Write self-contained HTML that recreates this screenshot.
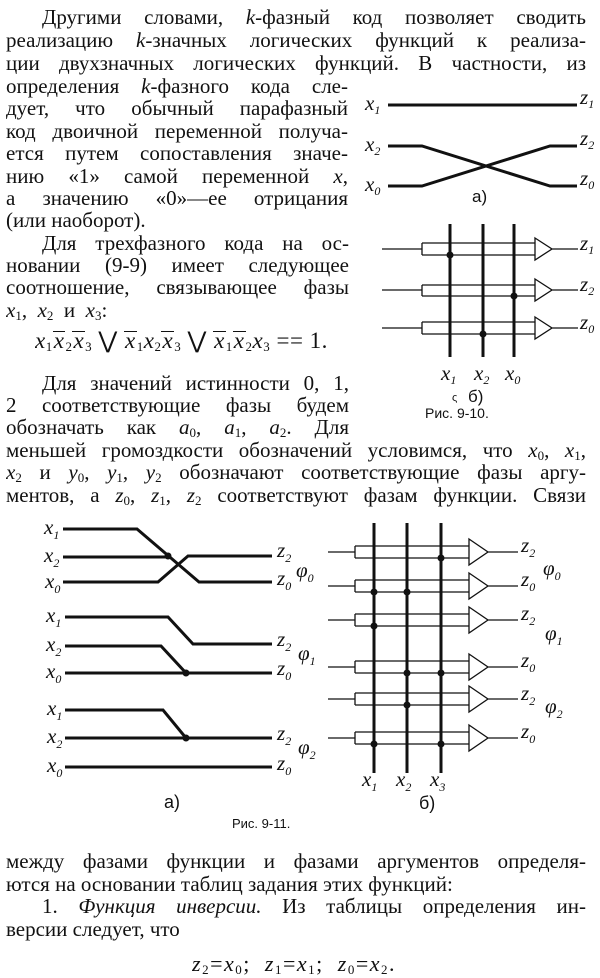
<!DOCTYPE html>
<html><head><meta charset="utf-8">
<style>
body{margin:0;background:#fff;}
#p{position:relative;width:600px;height:978px;overflow:hidden;background:#fff;color:#111;font-family:"Liberation Serif","DejaVu Serif",serif;}
.l{position:absolute;height:24px;line-height:24px;font-size:21px;text-align:justify;text-align-last:justify;white-space:normal;overflow:hidden;}
.n{text-align-last:left;}
i{font-style:italic;}
sub{font-size:13px;vertical-align:-3px;line-height:0;}
.ov{display:inline-block;line-height:18px;border-top:1.5px solid #111;padding:0 1px;}
svg text{font-family:"Liberation Serif",serif;font-style:italic;}
svg .s{font-family:"Liberation Sans",sans-serif;font-style:normal;}
</style></head><body><div id="p">
<div class="l" style="left:42px;width:544px;top:5px">Другими словами, <i>k</i>-фазный код позволяет сводить</div>
<div class="l" style="left:6px;width:580px;top:28px">реализацию <i>k</i>-значных логических функций к реализа-</div>
<div class="l" style="left:6px;width:580px;top:51px">ции двухзначных логических функций. В частности, из</div>
<div class="l" style="left:6px;width:342px;top:74px">определения <i>k</i>-фазного кода сле-</div>
<div class="l" style="left:6px;width:342px;top:96px">дует, что обычный парафазный</div>
<div class="l" style="left:6px;width:342px;top:119px">код двоичной переменной получа-</div>
<div class="l" style="left:6px;width:342px;top:141px">ется путем сопоставления значе-</div>
<div class="l" style="left:6px;width:342px;top:164px">нию «1» самой переменной <i>x</i>,</div>
<div class="l" style="left:6px;width:342px;top:186px">а значению «0»—ее отрицания</div>
<div class="l n" style="left:6px;width:342px;top:208px">(или наоборот).</div>
<div class="l" style="left:42px;width:307px;top:231px">Для трехфазного кода на ос-</div>
<div class="l" style="left:6px;width:343px;top:253px">новании (9-9) имеет следующее</div>
<div class="l" style="left:6px;width:343px;top:275px">соотношение, связывающее фазы</div>
<div class="l n" style="left:6px;width:343px;top:298px"><i>x</i><sub>1</sub>, &nbsp;<i>x</i><sub>2</sub> &nbsp;и &nbsp;<i>x</i><sub>3</sub>:</div>
<div class="l n" style="left:35px;width:310px;height:30px;line-height:30px;top:326px;font-size:23px;letter-spacing:0.5px"><i>x</i><sub>1</sub><i class="ov">x</i><sub>2</sub><i class="ov">x</i><sub>3</sub> ⋁ <i class="ov">x</i><sub>1</sub><i>x</i><sub>2</sub><i class="ov">x</i><sub>3</sub> ⋁ <i class="ov">x</i><sub>1</sub><i class="ov">x</i><sub>2</sub><i>x</i><sub>3</sub> == 1.</div>
<div class="l" style="left:42px;width:307px;top:371px">Для значений истинности 0, 1,</div>
<div class="l" style="left:6px;width:343px;top:393px">2 соответствующие фазы будем</div>
<div class="l" style="left:6px;width:343px;top:415px">обозначать как <i>a</i><sub>0</sub>, <i>a</i><sub>1</sub>, <i>a</i><sub>2</sub>. Для</div>
<div class="l" style="left:6px;width:580px;top:438px">меньшей громоздкости обозначений условимся, что <i>x</i><sub>0</sub>, <i>x</i><sub>1</sub>,</div>
<div class="l" style="left:6px;width:580px;top:460px"><i>x</i><sub>2</sub> и <i>y</i><sub>0</sub>, <i>y</i><sub>1</sub>, <i>y</i><sub>2</sub> обозначают соответствующие фазы аргу-</div>
<div class="l" style="left:6px;width:580px;top:483px">ментов, а <i>z</i><sub>0</sub>, <i>z</i><sub>1</sub>, <i>z</i><sub>2</sub> соответствуют фазам функции. Связи</div>
<div class="l" style="left:6px;width:580px;top:849px">между фазами функции и фазами аргументов определя-</div>
<div class="l n" style="left:6px;width:580px;top:872px">ются на основании таблиц задания этих функций:</div>
<div class="l" style="left:42px;width:544px;top:894px">1. <i>Функция инверсии.</i> Из таблицы определения ин-</div>
<div class="l n" style="left:6px;width:580px;top:917px">версии следует, что</div>
<div class="l n" style="left:192px;width:260px;top:952px;font-size:22px;letter-spacing:1.5px"><i>z</i><sub>2</sub>=<i>x</i><sub>0</sub>; &nbsp;<i>z</i><sub>1</sub>=<i>x</i><sub>1</sub>; &nbsp;<i>z</i><sub>0</sub>=<i>x</i><sub>2</sub>.</div>

<svg width="600" height="978" style="position:absolute;left:0;top:0" fill="none" stroke="#111">
<!-- Fig 9-10 a -->
<g stroke-width="3">
<path d="M388 105H577"/>
<path d="M388 146H422L550 186H577"/>
<path d="M388 186H422L550 146H577"/>
</g>
<g fill="#111" stroke="none" font-size="21">
<text x="365" y="110">x<tspan font-size="12" dy="4">1</tspan></text>
<text x="365" y="151">x<tspan font-size="12" dy="4">2</tspan></text>
<text x="365" y="191">x<tspan font-size="12" dy="4">0</tspan></text>
<text x="580" y="104">z<tspan font-size="12" dy="4">1</tspan></text>
<text x="580" y="145">z<tspan font-size="12" dy="4">2</tspan></text>
<text x="580" y="185">z<tspan font-size="12" dy="4">0</tspan></text>
<text x="580" y="250">z<tspan font-size="12" dy="4">1</tspan></text>
<text x="580" y="291">z<tspan font-size="12" dy="4">2</tspan></text>
<text x="580" y="329">z<tspan font-size="12" dy="4">0</tspan></text>
<text class="s" x="472" y="202" font-size="17">a)</text>
<text x="441" y="380">x<tspan font-size="12" dy="4">1</tspan></text>
<text x="474" y="380">x<tspan font-size="12" dy="4">2</tspan></text>
<text x="505" y="380">x<tspan font-size="12" dy="4">0</tspan></text>
<text class="s" x="452" y="401" font-size="11">ς</text>
<text class="s" x="468" y="402" font-size="17">б)</text>
<text class="s" x="425" y="418" font-size="14">Рис. 9-10.</text>
</g>
<!-- Fig 9-10 b -->
<g stroke-width="1.3">
<path d="M382 249H422M422 243H535M422 255H535M422 243V255M535 238L552 249L535 260ZM552 249H578"/>
<path d="M382 290H422M422 285H535M422 296H535M422 285V296M535 279L552 290L535 301ZM552 290H578"/>
<path d="M382 328H422M422 322H535M422 334H535M422 322V334M535 317L552 328L535 339ZM552 328H578"/>
</g>
<g stroke-width="3"><path d="M450 224V357M483 224V357M514 224V357"/></g>
<g fill="#111" stroke="none">
<circle cx="450" cy="255" r="3.5"/><circle cx="514" cy="296" r="3.5"/><circle cx="483" cy="334" r="3.5"/>
</g>

<!-- Fig 9-11 a -->
<g stroke-width="3">
<path d="M63 529H137L199 582H272"/>
<path d="M63 557H168"/>
<path d="M63 582H158L188 556H272"/>
<path d="M65 617H168L193 644H272"/>
<path d="M65 646H161L186 673"/>
<path d="M65 673H272"/>
<path d="M65 710H163L186 738"/>
<path d="M65 738H272"/>
<path d="M65 767H272"/>
</g>
<g fill="#111" stroke="none">
<circle cx="168" cy="556" r="3.5"/><circle cx="186" cy="673" r="3.5"/><circle cx="186" cy="738" r="3.5"/>
</g>
<g fill="#111" stroke="none" font-size="21">
<text x="44" y="534">x<tspan font-size="12" dy="5">1</tspan></text>
<text x="44" y="562">x<tspan font-size="12" dy="5">2</tspan></text>
<text x="45" y="588">x<tspan font-size="12" dy="5">0</tspan></text>
<text x="46" y="622">x<tspan font-size="12" dy="5">1</tspan></text>
<text x="46" y="651">x<tspan font-size="12" dy="5">2</tspan></text>
<text x="46" y="678">x<tspan font-size="12" dy="5">0</tspan></text>
<text x="47" y="715">x<tspan font-size="12" dy="5">1</tspan></text>
<text x="47" y="743">x<tspan font-size="12" dy="5">2</tspan></text>
<text x="47" y="772">x<tspan font-size="12" dy="5">0</tspan></text>
<text x="277" y="557">z<tspan font-size="12" dy="5">2</tspan></text>
<text x="277" y="585">z<tspan font-size="12" dy="5">0</tspan></text>
<text x="277" y="646">z<tspan font-size="12" dy="5">2</tspan></text>
<text x="277" y="675">z<tspan font-size="12" dy="5">0</tspan></text>
<text x="277" y="740">z<tspan font-size="12" dy="5">2</tspan></text>
<text x="277" y="770">z<tspan font-size="12" dy="5">0</tspan></text>
<text x="296" y="577">φ<tspan font-size="12" dy="5">0</tspan></text>
<text x="298" y="660">φ<tspan font-size="12" dy="5">1</tspan></text>
<text x="298" y="754">φ<tspan font-size="12" dy="5">2</tspan></text>
<text x="521" y="552">z<tspan font-size="12" dy="5">2</tspan></text>
<text x="521" y="586">z<tspan font-size="12" dy="5">0</tspan></text>
<text x="521" y="620">z<tspan font-size="12" dy="5">2</tspan></text>
<text x="521" y="667">z<tspan font-size="12" dy="5">0</tspan></text>
<text x="521" y="700">z<tspan font-size="12" dy="5">2</tspan></text>
<text x="521" y="738">z<tspan font-size="12" dy="5">0</tspan></text>
<text x="543" y="575">φ<tspan font-size="12" dy="5">0</tspan></text>
<text x="545" y="640">φ<tspan font-size="12" dy="5">1</tspan></text>
<text x="545" y="713">φ<tspan font-size="12" dy="5">2</tspan></text>
<text x="362" y="786">x<tspan font-size="12" dy="5">1</tspan></text>
<text x="396" y="786">x<tspan font-size="12" dy="5">2</tspan></text>
<text x="430" y="786">x<tspan font-size="12" dy="5">3</tspan></text>
<text class="s" x="164" y="808" font-size="18">a)</text>
<text class="s" x="419" y="809" font-size="18">б)</text>
<text class="s" x="232" y="828" font-size="13">Рис. 9-11.</text>
</g>
<!-- Fig 9-11 b -->
<g stroke-width="1.3">
<path d="M328 552H355M355 546H469M355 558H469M355 546V558M469 539L488 552L469 565ZM488 552H518"/>
<path d="M328 586H355M355 580H469M355 592H469M355 580V592M469 573L488 586L469 599ZM488 586H518"/>
<path d="M328 620H355M355 614H469M355 626H469M355 614V626M469 607L488 620L469 633ZM488 620H518"/>
<path d="M328 667H355M355 661H469M355 673H469M355 661V673M469 654L488 667L469 680ZM488 667H518"/>
<path d="M328 699H355M355 693H469M355 705H469M355 693V705M469 686L488 699L469 712ZM488 699H518"/>
<path d="M328 738H355M355 732H469M355 744H469M355 732V744M469 725L488 738L469 751ZM488 738H518"/>
</g>
<g stroke-width="3"><path d="M374 523V773M407 523V773M441 523V773"/></g>
<g fill="#111" stroke="none">
<circle cx="441" cy="558" r="3.5"/>
<circle cx="374" cy="592" r="3.5"/><circle cx="407" cy="592" r="3.5"/>
<circle cx="374" cy="626" r="3.5"/>
<circle cx="407" cy="673" r="3.5"/><circle cx="441" cy="673" r="3.5"/>
<circle cx="407" cy="705" r="3.5"/>
<circle cx="374" cy="744" r="3.5"/><circle cx="441" cy="744" r="3.5"/>
</g>
</svg>
</div></body></html>
